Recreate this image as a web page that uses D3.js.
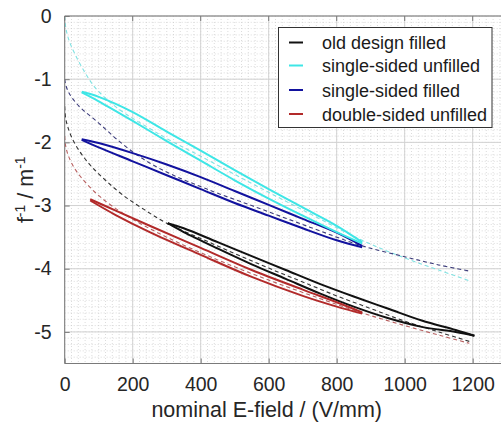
<!DOCTYPE html>
<html><head><meta charset="utf-8">
<script src="https://cdn.jsdelivr.net/npm/d3@7"></script>
<style>html,body{margin:0;padding:0;background:#fff;overflow:hidden}</style>
</head><body>
<svg id="c" width="501" height="423"></svg>
<script>
// ---------- data ----------
const xTicks = [0, 200, 400, 600, 800, 1000, 1200];
const yTicks = [0, -1, -2, -3, -4, -5];
const seriesNames = ["old design filled", "single-sided unfilled", "single-sided filled", "double-sided unfilled"];
const seriesColors = ["#111111", "#3ee6e6", "#12129e", "#b22a2a"];
const fitColors = ["#333333", "#7fe2e2", "#3b3b7a", "#b86060"];

// measured loops (E, upper branch, lower branch)
const oldE  = [303, 350, 450, 550, 650, 750, 850, 950, 1050, 1150, 1205];
const oldUp = [-3.28, -3.36, -3.58, -3.80, -4.02, -4.24, -4.44, -4.63, -4.82, -4.97, -5.06];
const oldLo = [-3.28, -3.42, -3.68, -3.93, -4.16, -4.39, -4.60, -4.78, -4.92, -5.00, -5.06];

const ssuE  = [50, 100, 200, 300, 400, 500, 600, 700, 800, 875];
const ssuUp = [-1.20, -1.28, -1.52, -1.83, -2.13, -2.44, -2.74, -3.03, -3.32, -3.58];
const ssuLo = [-1.21, -1.35, -1.66, -1.98, -2.29, -2.60, -2.89, -3.16, -3.42, -3.60];

const ssfE  = [50, 100, 200, 300, 400, 500, 600, 700, 800, 875];
const ssfUp = [-1.95, -2.01, -2.17, -2.35, -2.55, -2.77, -2.99, -3.21, -3.43, -3.64];
const ssfLo = [-1.96, -2.08, -2.30, -2.52, -2.74, -2.96, -3.16, -3.36, -3.55, -3.66];

const dsuE  = [75, 150, 250, 400, 550, 700, 800, 875];
const dsuUp = [-2.90, -3.08, -3.32, -3.67, -4.02, -4.33, -4.53, -4.69];
const dsuLo = [-2.92, -3.15, -3.42, -3.78, -4.13, -4.43, -4.60, -4.71];

// fitted curves (dashed)
const oldFitE = [0, 3, 10, 25, 50, 80, 120, 170, 230, 300, 400, 500, 600, 700, 800, 900, 1000, 1100, 1190];
const oldFitF = [-1.43, -1.62, -1.77, -1.97, -2.19, -2.39, -2.60, -2.83, -3.05, -3.28, -3.52, -3.76, -3.99, -4.21, -4.43, -4.63, -4.83, -5.00, -5.15];
const ssuFitE = [0, 2, 6, 15, 30, 60, 89, 120, 153, 200, 250, 300, 400, 550, 700, 875, 1000, 1100, 1195];
const ssuFitF = [0, -0.14, -0.26, -0.42, -0.60, -0.90, -1.13, -1.30, -1.45, -1.62, -1.78, -1.94, -2.22, -2.65, -3.07, -3.55, -3.83, -4.02, -4.20];
const ssfFitE = [0, 3, 10, 25, 50, 84, 120, 153, 200, 251, 300, 349, 400, 447, 550, 650, 750, 870, 1000, 1100, 1193];
const ssfFitF = [-1.00, -1.09, -1.19, -1.32, -1.47, -1.62, -1.79, -1.95, -2.15, -2.33, -2.47, -2.59, -2.70, -2.80, -3.00, -3.20, -3.40, -3.63, -3.81, -3.94, -4.04];
const dsuFitE = [0, 2, 6, 12, 30, 59, 104, 182, 300, 450, 600, 750, 875, 1000, 1100, 1190];
const dsuFitF = [-1.90, -2.03, -2.13, -2.23, -2.42, -2.62, -2.86, -3.16, -3.50, -3.86, -4.18, -4.47, -4.70, -4.90, -5.05, -5.18];

const loops = [[oldE, oldUp, oldLo], [ssuE, ssuUp, ssuLo], [ssfE, ssfUp, ssfLo], [dsuE, dsuUp, dsuLo]];
const fits = [[oldFitE, oldFitF], [ssuFitE, ssuFitF], [ssfFitE, ssfFitF], [dsuFitE, dsuFitF]];

// ---------- layout ----------
const svg = d3.select("#c");
const L = 64.7, T = 16, B = 363.5, R = 506.7;
const x = d3.scaleLinear().domain([0, 1300]).range([L, R]);
const y = d3.scaleLinear().domain([-5.5, 0]).range([B, T]);
const font = "'Liberation Sans', Arial, Helvetica, sans-serif";

svg.append("defs").append("clipPath").attr("id", "clip")
  .append("rect").attr("x", L).attr("y", T).attr("width", R - L).attr("height", B - T);

// minor grid
const g = svg.append("g");
g.selectAll("line.mx").data(d3.range(0, 1301, 20)).join("line")
  .attr("x1", d => x(d)).attr("x2", d => x(d)).attr("y1", T).attr("y2", B)
  .attr("stroke", "#c4c4c4").attr("stroke-width", 0.6).attr("stroke-dasharray", "1,2");
g.selectAll("line.my").data(d3.range(-55, 1, 1).map(v => v / 10)).join("line")
  .attr("y1", d => y(d)).attr("y2", d => y(d)).attr("x1", L).attr("x2", R)
  .attr("stroke", "#c4c4c4").attr("stroke-width", 0.6).attr("stroke-dasharray", "1,2");
// major grid
g.selectAll("line.gx").data(xTicks).join("line")
  .attr("x1", d => x(d)).attr("x2", d => x(d)).attr("y1", T).attr("y2", B)
  .attr("stroke", "#d2d2d2").attr("stroke-width", 1);
g.selectAll("line.gy").data(yTicks).join("line")
  .attr("y1", d => y(d)).attr("y2", d => y(d)).attr("x1", L).attr("x2", R)
  .attr("stroke", "#d2d2d2").attr("stroke-width", 1);

// data
const plot = svg.append("g").attr("clip-path", "url(#clip)");
const curveGen = d3.line().x(d => x(d[0])).y(d => y(d[1])).curve(d3.curveCatmullRom.alpha(0.5));

fits.forEach((f, i) => {
  const pts = f[0].map((e, k) => [e, f[1][k]]);
  plot.append("path").attr("d", curveGen(pts)).attr("fill", "none")
    .attr("stroke", fitColors[i]).attr("stroke-width", 1.1).attr("stroke-dasharray", "4,3");
});
[0, 3, 2, 1].forEach(i => {
  const [E, up, lo] = loops[i];
  const upPts = E.map((e, k) => [e, up[k]]);
  const loPts = E.map((e, k) => [e, lo[k]]);
  [upPts, loPts].forEach(p => {
    plot.append("path").attr("d", curveGen(p)).attr("fill", "none")
      .attr("stroke", seriesColors[i]).attr("stroke-width", 2).attr("stroke-linejoin", "round");
  });
});

// axes box
const axCol = "#7a7a7a";
svg.append("line").attr("x1", L).attr("x2", R).attr("y1", B).attr("y2", B).attr("stroke", axCol);
svg.append("line").attr("x1", L).attr("x2", R).attr("y1", T).attr("y2", T).attr("stroke", axCol);
svg.append("line").attr("x1", L).attr("x2", L).attr("y1", T).attr("y2", B).attr("stroke", axCol);

const xAxis = d3.axisBottom(x).tickValues(xTicks).tickSizeInner(-5).tickSizeOuter(0).tickPadding(14).tickFormat(d3.format("d"));
const gx = svg.append("g").attr("transform", `translate(0,${B})`).call(xAxis);
gx.select(".domain").remove();
gx.selectAll("line").attr("stroke", axCol);
gx.selectAll("text").attr("font-family", font).attr("font-size", 19.5).attr("fill", "#262626");

const yAxis = d3.axisLeft(y).tickValues(yTicks).tickSizeInner(-5).tickSizeOuter(0).tickPadding(13).tickFormat(d => d === 0 ? "0" : "-" + Math.abs(d));
const gy = svg.append("g").attr("transform", `translate(${L},0)`).call(yAxis);
gy.select(".domain").remove();
gy.selectAll("line").attr("stroke", axCol);
gy.selectAll("text").attr("font-family", font).attr("font-size", 19.5).attr("fill", "#262626");

// top ticks
svg.selectAll("line.tt").data(xTicks).join("line")
  .attr("x1", d => x(d)).attr("x2", d => x(d)).attr("y1", T).attr("y2", T + 5).attr("stroke", axCol);

// axis labels
svg.append("text").attr("x", x(600) - 2).attr("y", 417).attr("text-anchor", "middle")
  .attr("font-family", font).attr("font-size", 21.5).attr("fill", "#262626")
  .text("nominal E-field / (V/mm)");

const yl = svg.append("text").attr("transform", `translate(33,${(T + B) / 2}) rotate(-90)`)
  .attr("text-anchor", "middle").attr("font-family", font).attr("font-size", 21.5).attr("fill", "#262626");
yl.append("tspan").text("f");
yl.append("tspan").attr("dy", -8).attr("font-size", 14).text("-1");
yl.append("tspan").attr("dy", 8).text(" / m");
yl.append("tspan").attr("dy", -8).attr("font-size", 14).text("-1");

// legend
const lg = svg.append("g");
lg.append("rect").attr("x", 278.5).attr("y", 27.5).attr("width", 213.5).attr("height", 100)
  .attr("fill", "#fff").attr("stroke", "#333").attr("stroke-width", 1);
const rowY = [42.5, 65.5, 90, 114];
seriesNames.forEach((n, i) => {
  lg.append("line").attr("x1", 289).attr("x2", 303).attr("y1", rowY[i]).attr("y2", rowY[i])
    .attr("stroke", seriesColors[i]).attr("stroke-width", 2);
  lg.append("text").attr("x", 322).attr("y", rowY[i] + 6.5).attr("font-family", font)
    .attr("font-size", 18).attr("fill", "#1a1a1a").text(n);
});
</script>
</body></html>
